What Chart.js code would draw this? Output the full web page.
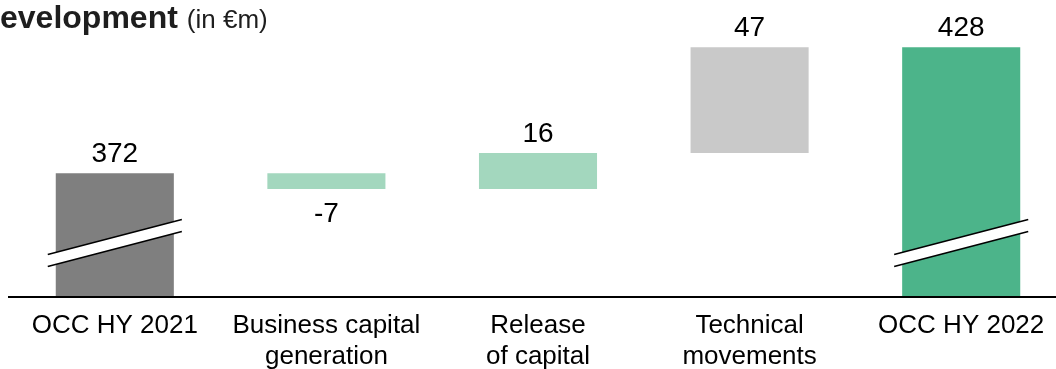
<!DOCTYPE html>
<html>
<head>
<meta charset="utf-8">
<script src="https://cdn.jsdelivr.net/npm/chart.js@4/dist/chart.umd.min.js"></script>
<style>
  html, body { margin: 0; padding: 0; background: #fff; overflow: hidden; }
  #wrap { width: 1070px; height: 369px; position: relative; }
</style>
</head>
<body>
<div id="wrap"><canvas id="c"></canvas></div>
<script>
// ---- data ----
const categories = [
  ["OCC HY 2021"],
  ["Business capital", "generation"],
  ["Release", "of capital"],
  ["Technical", "movements"],
  ["OCC HY 2022"]
];
const changes = [372, -7, 16, 47, 428];
const isTotal = [true, false, false, false, true];
const valueLabels = ["372", "-7", "16", "47", "428"];
const barColors = ["#7f7f7f", "#a3d7be", "#a3d7be", "#c9c9c9", "#4cb48a"];
const axisMin = 317;   // broken axis start
const axisMax = 449;
const breakValue = 341; // where the axis-break mark sits on total bars

// build floating ranges from the changes
const ranges = [];
let running = 0;
changes.forEach((v, i) => {
  if (isTotal[i]) { ranges.push([axisMin, v]); running = v; }
  else { ranges.push([running, running + v]); running += v; }
});

const FONT = '"Liberation Sans", Arial, sans-serif';

const overlay = {
  id: 'overlay',
  afterDatasetsDraw(chart) {
    const ctx = chart.ctx;
    const meta = chart.getDatasetMeta(0);
    const y = chart.scales.y;
    ctx.save();
    // value labels
    ctx.fillStyle = '#000';
    ctx.font = '28px ' + FONT;
    ctx.textAlign = 'center';
    ctx.textBaseline = 'alphabetic';
    meta.data.forEach((bar, i) => {
      const top = Math.min(bar.y, bar.base);
      const bottom = Math.max(bar.y, bar.base);
      if (changes[i] >= 0) {
        ctx.fillText(valueLabels[i], bar.x, top - 11);
      } else {
        ctx.fillText(valueLabels[i], bar.x, bottom + 33);
      }
    });
    // axis break marks on total bars
    const yc = y.getPixelForValue(breakValue);
    meta.data.forEach((bar, i) => {
      if (!isTotal[i]) return;
      const half = bar.width / 2 + 8;
      const x1 = bar.x - half, x2 = bar.x + half;
      const rise = 17.5, gap = 6;
      ctx.beginPath();
      ctx.moveTo(x1, yc + rise - gap);
      ctx.lineTo(x2, yc - rise - gap);
      ctx.lineTo(x2, yc - rise + gap);
      ctx.lineTo(x1, yc + rise + gap);
      ctx.closePath();
      ctx.fillStyle = '#fff';
      ctx.fill();
      ctx.strokeStyle = '#000';
      ctx.lineWidth = 1.5;
      ctx.beginPath();
      ctx.moveTo(x1, yc + rise - gap); ctx.lineTo(x2, yc - rise - gap);
      ctx.moveTo(x1, yc + rise + gap); ctx.lineTo(x2, yc - rise + gap);
      ctx.stroke();
    });
    // baseline axis
    const by = y.getPixelForValue(axisMin);
    ctx.strokeStyle = '#000';
    ctx.lineWidth = 2;
    ctx.beginPath();
    ctx.moveTo(chart.chartArea.left - 1, by);
    ctx.lineTo(chart.width, by);
    ctx.stroke();
    // title
    ctx.textAlign = 'left';
    ctx.fillStyle = '#1e1e1e';
    ctx.font = 'bold 32px ' + FONT;
    ctx.fillText('evelopment', 0, 28);
    const w = ctx.measureText('evelopment').width;
    ctx.font = '26px ' + FONT;
    ctx.fillText('(in €m)', w + 9, 28);
    ctx.restore();
  }
};

new Chart(document.getElementById('c'), {
  type: 'bar',
  data: {
    labels: categories,
    datasets: [{
      data: ranges,
      backgroundColor: barColors,
      borderWidth: 0,
      barPercentage: 0.558,
      categoryPercentage: 1.0
    }]
  },
  options: {
    responsive: true,
    maintainAspectRatio: false,
    animation: false,
    layout: { padding: { left: 9, right: 3, top: 0, bottom: 0 } },
    plugins: { legend: { display: false }, tooltip: { enabled: false } },
    scales: {
      x: {
        grid: { display: false, drawTicks: false },
        border: { display: false },
        afterFit: (s) => { s.height = 72; },
        ticks: {
          color: '#000',
          font: { family: FONT, size: 26 },
          padding: 13,
          maxRotation: 0,
          autoSkip: false
        }
      },
      y: {
        display: false,
        min: axisMin,
        max: axisMax
      }
    }
  },
  plugins: [overlay]
});
</script>
</body>
</html>
